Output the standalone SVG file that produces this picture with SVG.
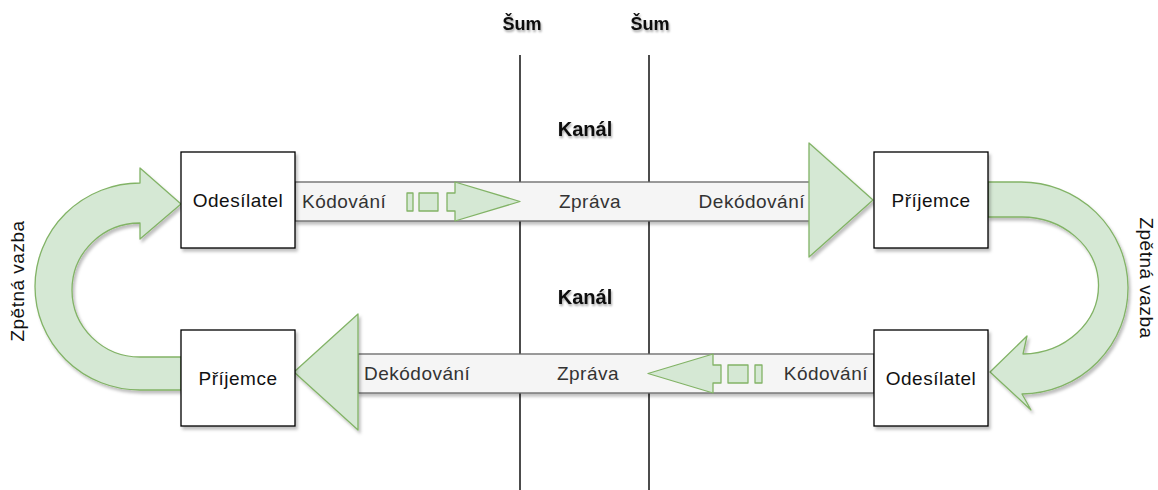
<svg xmlns="http://www.w3.org/2000/svg" width="1158" height="490" viewBox="0 0 1158 490">
<defs>
<filter id="sh" x="-20%" y="-20%" width="140%" height="140%">
<feDropShadow dx="2" dy="3" stdDeviation="1.5" flood-color="#000" flood-opacity="0.25"/>
</filter>
<filter id="tsh" x="-20%" y="-40%" width="140%" height="180%">
<feDropShadow dx="1" dy="2" stdDeviation="1.2" flood-color="#000" flood-opacity="0.35"/>
</filter>
</defs>
<style>
.box{fill:#fff;stroke:#000;stroke-width:1.3}
.bar{fill:#f5f5f5;stroke:#666;stroke-width:1.3}
.grn{fill:#d5e8d4;stroke:#82b366;stroke-width:1.3;stroke-linejoin:round}
.ln{stroke:#111;stroke-width:1.5;fill:none}
.t{font-family:"Liberation Sans",Arial,sans-serif;font-size:19px;letter-spacing:0.5px;fill:#111}
.tb{font-family:"Liberation Sans",Arial,sans-serif;font-size:19px;letter-spacing:0.5px;fill:#333}
.h{font-family:"Liberation Sans",Arial,sans-serif;font-size:18px;font-weight:bold;fill:#111}
.k{font-family:"Liberation Sans",Arial,sans-serif;font-size:20px;font-weight:bold;fill:#111}
</style>

<g id="noise">
<line class="ln" x1="520" y1="55" x2="520" y2="490"/>
<line class="ln" x1="649" y1="55" x2="649" y2="490"/>
<text class="h" x="522" y="30" text-anchor="middle" filter="url(#tsh)">Šum</text>
<text class="h" x="650" y="30" text-anchor="middle" filter="url(#tsh)">Šum</text>
<text class="k" x="585" y="136" text-anchor="middle" filter="url(#tsh)">Kanál</text>
<text class="k" x="585" y="304" text-anchor="middle" filter="url(#tsh)">Kanál</text>
</g>

<g id="connectors">
<g id="top-channel">
<rect class="bar" x="295" y="182" width="515" height="39" filter="url(#sh)"/>
<polygon class="grn" points="809,143 873,200 809,257" filter="url(#sh)"/>
<rect class="grn" x="407" y="193" width="6" height="18"/>
<rect class="grn" x="419" y="193" width="19" height="18"/>
<polygon class="grn" points="455,182 520,201.5 455,221 455,211 447,211 447,193 455,193"/>
<text class="tb" x="302" y="208">Kódování</text>
<text class="tb" x="590" y="208" text-anchor="middle">Zpráva</text>
<text class="tb" x="805" y="208" text-anchor="end">Dekódování</text>
</g>
<g id="bottom-channel">
<rect class="bar" x="358" y="354" width="516" height="39" filter="url(#sh)"/>
<polygon class="grn" points="358,314 294,372 358,430" filter="url(#sh)"/>
<rect class="grn" x="755" y="365" width="7" height="18"/>
<rect class="grn" x="728" y="365" width="20" height="18"/>
<polygon class="grn" points="713,354 648,373.5 713,393 713,383 721,383 721,365 713,365"/>
<text class="tb" x="364" y="380">Dekódování</text>
<text class="tb" x="588" y="380" text-anchor="middle">Zpráva</text>
<text class="tb" x="868" y="380" text-anchor="end">Kódování</text>
</g>
<g id="feedback-left">
<path class="grn" filter="url(#sh)" d="M181,390 L140,390 A105,103.5 0 0 1 140,183 L140,168 L181,204 L140,239 L140,223 A68,67 0 0 0 140,357 L181,357 Z"/>
<text class="t" transform="translate(24,281) rotate(-90)" text-anchor="middle">Zpětná vazba</text>
</g>
<g id="feedback-right">
<path class="grn" filter="url(#sh)" d="M988,182 L1020,182 A107,106 0 0 1 1022,394 L1031,410 L990,372 L1027,336 L1023,354 A77,68.5 0 0 0 1020,217 L988,217 Z"/>
<text class="t" transform="translate(1140,278) rotate(90)" text-anchor="middle">Zpětná vazba</text>
</g>
</g>

<g id="sender-top">
<rect class="box" x="181" y="152" width="114" height="96" filter="url(#sh)"/>
<text class="t" x="238" y="207" text-anchor="middle">Odesílatel</text>
</g>
<g id="receiver-top">
<rect class="box" x="874" y="152" width="114" height="96" filter="url(#sh)"/>
<text class="t" x="931" y="207" text-anchor="middle">Příjemce</text>
</g>
<g id="receiver-bottom">
<rect class="box" x="181" y="330" width="114" height="96" filter="url(#sh)"/>
<text class="t" x="238" y="385" text-anchor="middle">Příjemce</text>
</g>
<g id="sender-bottom">
<rect class="box" x="874" y="330" width="114" height="96" filter="url(#sh)"/>
<text class="t" x="931" y="385" text-anchor="middle">Odesílatel</text>
</g>
</svg>
